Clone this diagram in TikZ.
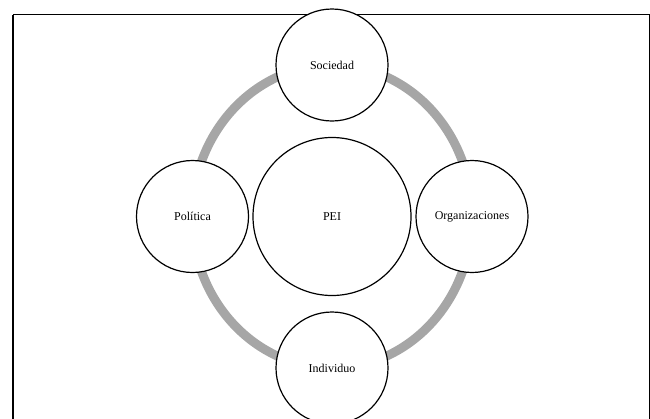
\documentclass[tikz,border=0pt]{standalone}
\usepackage{fontspec}
\setmainfont{Liberation Serif}
\definecolor{ringgray}{RGB}{166,166,166}
\begin{document}
\begin{tikzpicture}[x=1pt,y=-1pt,
  bubble/.style={circle,draw=black,line width=1.2pt,fill=white,inner sep=0pt,minimum size=112pt,font=\fontsize{12}{14}\selectfont},
  bigbubble/.style={bubble,minimum size=158pt},
  ring/.style={draw=ringgray,line width=9pt},
  frame/.style={draw=black,line width=1.3pt}]
\useasboundingbox (0,0) rectangle (650,418);
\path[frame] (13,14.5) -- (649.3,14.5) -- (649.3,430) (13,14.5) -- (13,430);
\coordinate (ctr) at (332,216.5);
\path[ring] (ctr) ellipse [x radius=140, y radius=151.5];
\node[bigbubble] (pei) at (ctr) {PEI};
\node[bubble] (soc) at (332,65) {Sociedad};
\node[bubble] (ind) at (332,368) {Individuo};
\node[bubble] (pol) at (192.5,216.5) {Política};
\node[bubble] (org) at (472,216.5) {Organizaciones};
\end{tikzpicture}
\end{document}
